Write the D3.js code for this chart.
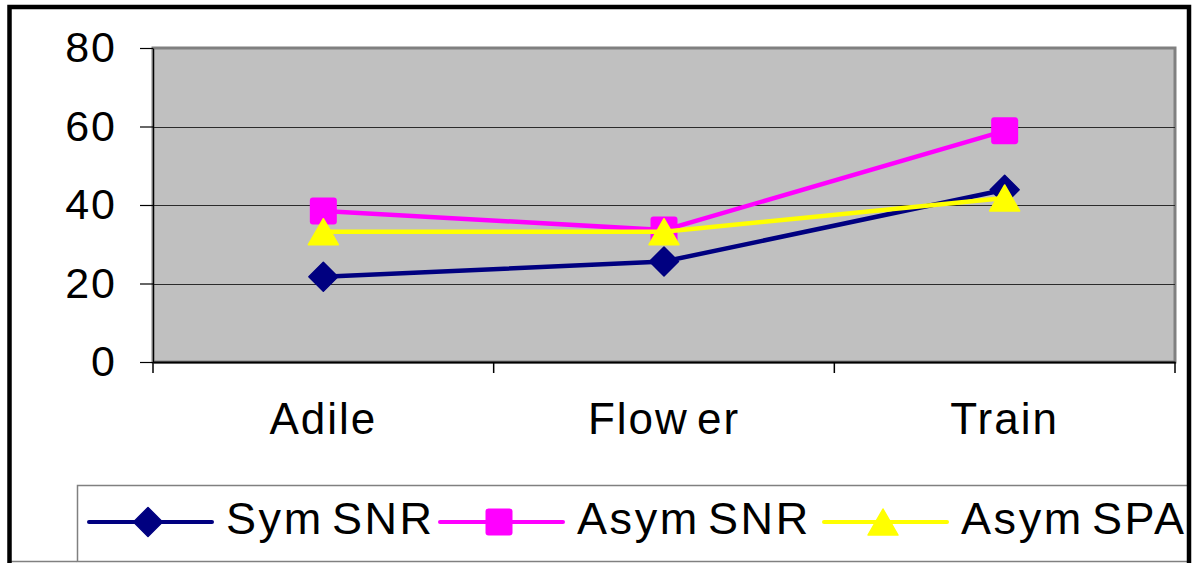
<!DOCTYPE html>
<html>
<head>
<meta charset="utf-8">
<script src="https://cdn.jsdelivr.net/npm/d3@7"></script>
<style>
  html, body { margin: 0; padding: 0; background: #fff; }
  svg { display: block; }
  text { font-family: "Liberation Sans", Arial, sans-serif; }
</style>
</head>
<body>
<svg id="chart" width="1193" height="563"></svg>
<script>
// ---- data ----
const categories = ["Adile", "Flow er", "Train"];
const seriesNames = ["Sym SNR", "Asym SNR", "Asym SPA"];
const symSNR  = [21.7, 25.6, 43.9];
const asymSNR = [38.5, 33.6, 58.9];
const asymSPA = [33.2, 33.2, 41.8];
const yTicks = [0, 20, 40, 60, 80];

// ---- layout ----
const W = 1193, H = 563;
const plot = { left: 153, right: 1175, top: 48, bottom: 362 };
const colors = ["#000080", "#FF00FF", "#FFFF00"];
const shapes = ["diamond", "square", "triangle"];
const series = [symSNR, asymSNR, asymSPA].map((vals, i) => ({
  name: seriesNames[i], values: vals, color: colors[i], shape: shapes[i]
}));

const svg = d3.select("#chart");
svg.append("rect").attr("width", W).attr("height", H).attr("fill", "#fff");

const x = d3.scaleBand().domain(categories).range([plot.left, plot.right]);
const y = d3.scaleLinear().domain([0, 80]).range([plot.bottom, plot.top]);
const cx = c => x(c) + x.bandwidth() / 2;

// plot area
svg.append("rect")
  .attr("x", plot.left).attr("y", plot.top)
  .attr("width", plot.right - plot.left).attr("height", plot.bottom - plot.top)
  .attr("fill", "#C0C0C0").attr("stroke", "#808080").attr("stroke-width", 3);

// gridlines
svg.append("g").selectAll("line").data(yTicks.filter(t => t > 0 && t < 80))
  .join("line")
  .attr("x1", plot.left).attr("x2", plot.right)
  .attr("y1", d => Math.round(y(d)) + 0.5).attr("y2", d => Math.round(y(d)) + 0.5)
  .attr("stroke", "#2b2b2b").attr("stroke-width", 1);

// y axis
const yAxis = svg.append("g").attr("transform", `translate(${plot.left},0)`)
  .call(d3.axisLeft(y).tickValues(yTicks).tickSizeInner(13).tickSizeOuter(0).tickPadding(23));
yAxis.select(".domain").attr("stroke", "#000").attr("stroke-width", 1.2);
yAxis.selectAll(".tick line").attr("stroke", "#000").attr("stroke-width", 1.2);
yAxis.selectAll("text").attr("font-size", 43).attr("letter-spacing", 2).attr("fill", "#000");

// x axis
const xAxis = svg.append("g").attr("transform", `translate(0,${plot.bottom})`)
  .call(d3.axisBottom(x).tickSizeInner(0).tickSizeOuter(0).tickPadding(41));
xAxis.select(".domain").attr("stroke", "#000").attr("stroke-width", 2);
xAxis.selectAll("text").attr("font-size", 44).attr("letter-spacing", 2)
  .attr("word-spacing", -6).attr("fill", "#000");
// boundary ticks
const bounds = [x.range()[0]].concat(categories.map(c => x(c) + x.bandwidth()));
xAxis.append("g").selectAll("line").data(bounds).join("line")
  .attr("x1", d => d).attr("x2", d => d).attr("y1", 0).attr("y2", 11)
  .attr("stroke", "#000").attr("stroke-width", 1.5);

// marker drawing
function drawMarker(g, shape, color) {
  if (shape === "square") {
    g.append("rect").attr("x", -13.5).attr("y", -13.5).attr("width", 27).attr("height", 27)
      .attr("rx", 3).attr("fill", color);
  } else if (shape === "diamond") {
    g.append("path").attr("d", d3.symbol(d3.symbolSquare, 420)())
      .attr("transform", "rotate(45)").attr("fill", color)
      .attr("stroke", color).attr("stroke-width", 1.5).attr("stroke-linejoin", "round");
  } else {
    g.append("path").attr("d", "M0,-13 L15,13 L-15,13 Z")
      .attr("fill", color).attr("stroke", color).attr("stroke-width", 1.5)
      .attr("stroke-linejoin", "round");
  }
}

const line = d3.line().x(d => cx(d.c)).y(d => y(d.v));
series.forEach(s => {
  const pts = s.values.map((v, i) => ({ c: categories[i], v }));
  svg.append("path").datum(pts).attr("d", line)
    .attr("fill", "none").attr("stroke", s.color).attr("stroke-width", 4.5);
  pts.forEach(p => {
    const g = svg.append("g").attr("transform", `translate(${cx(p.c)},${y(p.v)})`);
    drawMarker(g, s.shape, s.color);
  });
});

// legend
const legendBox = { x: 77, y: 485, w: 1200, h: 76 };
svg.append("line").attr("x1", 10).attr("x2", legendBox.x).attr("y1", 561.5).attr("y2", 561.5)
  .attr("stroke", "#808080").attr("stroke-width", 1.5);
svg.append("rect").attr("x", legendBox.x + 0.5).attr("y", legendBox.y + 0.5)
  .attr("width", legendBox.w).attr("height", legendBox.h)
  .attr("fill", "#fff").attr("stroke", "#808080").attr("stroke-width", 1.5);
const legendX = [89, 440, 824];
const legendY = 522;
series.forEach((s, i) => {
  const g = svg.append("g").attr("transform", `translate(${legendX[i]},${legendY})`);
  g.append("line").attr("x1", 0).attr("x2", 123).attr("y1", 0).attr("y2", 0)
    .attr("stroke", s.color).attr("stroke-width", 4).attr("stroke-linecap", "round");
  const m = g.append("g").attr("transform", "translate(59,0)");
  drawMarker(m, s.shape, s.color);
  g.append("text").attr("x", 137).attr("y", 12)
    .attr("font-size", 45).attr("letter-spacing", 2.6).attr("word-spacing", -7)
    .attr("fill", "#000").text(s.name);
});

// mask right side beyond frame
svg.append("rect").attr("x", 1191).attr("y", 0).attr("width", 10).attr("height", H).attr("fill", "#fff");

// outer frame
svg.append("rect").attr("x", 9.5).attr("y", 7).attr("width", 1179.5).attr("height", 620)
  .attr("fill", "none").attr("stroke", "#000").attr("stroke-width", 4.5);
</script>
</body>
</html>
